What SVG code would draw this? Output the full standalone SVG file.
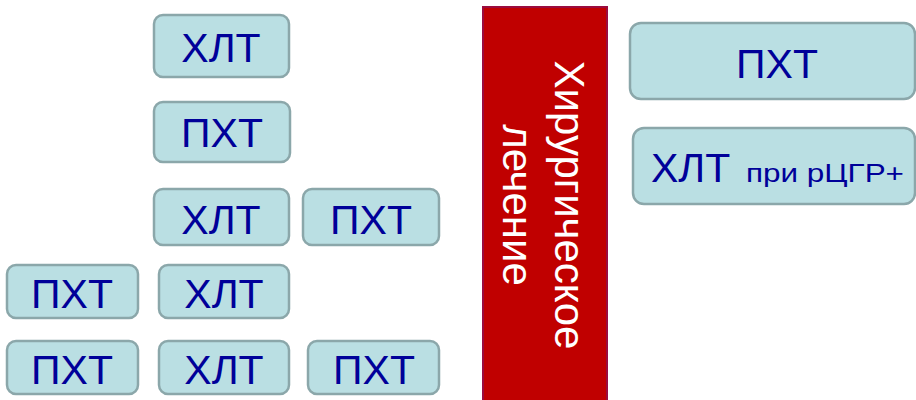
<svg xmlns="http://www.w3.org/2000/svg" width="916" height="400" viewBox="0 0 916 400">
  <style>
    .box { fill: #badfe3; stroke: #8ba7aa; stroke-width: 2.5; }
    .lbl { font-family: "Liberation Sans", Arial, sans-serif; font-size: 41px; fill: #000099; text-anchor: middle; }
    .lbl.left { text-anchor: start; }
    .lbl.small { font-size: 26px; }
    .surg { fill: #c00000; stroke: #9b0c3e; stroke-width: 2; }
    .vtxt { font-family: "Liberation Sans", Arial, sans-serif; font-size: 42px; fill: #ffffff; text-anchor: middle; }
  </style>
  <rect width="916" height="400" fill="#ffffff"/>

  <!-- left column of treatment blocks -->
  <g id="n1"><rect class="box" x="154" y="15" width="135" height="62" rx="9"/><text class="lbl" x="221" y="62">ХЛТ</text></g>
  <g id="n2"><rect class="box" x="154" y="102" width="136" height="60" rx="9"/><text class="lbl" x="222" y="147">ПХТ</text></g>
  <g id="n3"><rect class="box" x="154" y="189" width="135" height="56" rx="9"/><text class="lbl" x="221" y="234">ХЛТ</text></g>
  <g id="n4"><rect class="box" x="303" y="189" width="136" height="56" rx="9"/><text class="lbl" x="371" y="234">ПХТ</text></g>
  <g id="n5"><rect class="box" x="7" y="265" width="131" height="53" rx="9"/><text class="lbl" x="72" y="308">ПХТ</text></g>
  <g id="n6"><rect class="box" x="159" y="265" width="130" height="53" rx="9"/><text class="lbl" x="224" y="308">ХЛТ</text></g>
  <g id="n7"><rect class="box" x="7" y="341" width="131" height="53" rx="9"/><text class="lbl" x="72" y="384">ПХТ</text></g>
  <g id="n8"><rect class="box" x="159" y="341" width="130" height="53" rx="9"/><text class="lbl" x="224" y="384">ХЛТ</text></g>
  <g id="n9"><rect class="box" x="308" y="341" width="131" height="53" rx="9"/><text class="lbl" x="374" y="384">ПХТ</text></g>

  <!-- surgery bar -->
  <g id="surgery">
    <rect class="surg" x="483" y="7" width="124" height="400"/>
    <text class="vtxt" transform="translate(555,205) rotate(90)" x="0" y="0">Хирургическое</text>
    <text class="vtxt" transform="translate(503,205) rotate(90)" x="0" y="0">лечение</text>
  </g>

  <!-- adjuvant blocks -->
  <g id="n10"><rect class="box" x="630" y="23" width="285" height="76" rx="11"/><text class="lbl" x="777" y="78">ПХТ</text></g>
  <g id="n11">
    <rect class="box" x="633" y="128" width="282" height="76" rx="11"/>
    <text class="lbl left" x="651" y="182">ХЛТ</text>
    <text class="lbl left small" x="746" y="182" textLength="158" lengthAdjust="spacingAndGlyphs">при рЦГР+</text>
  </g>

  <g id="connectors"/>
</svg>
